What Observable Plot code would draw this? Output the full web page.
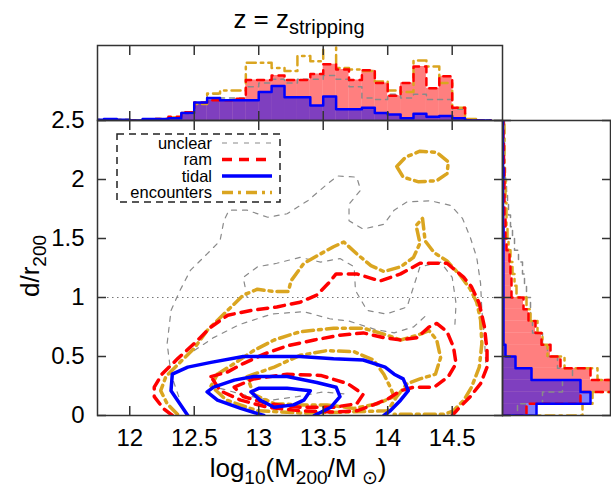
<!DOCTYPE html>
<html><head><meta charset="utf-8">
<script src="https://cdn.jsdelivr.net/npm/d3@7"></script>
<script src="https://cdn.jsdelivr.net/npm/@observablehq/plot@0.6"></script>
<style>
body{margin:0;background:#fff;}
#chart{position:relative;width:611px;height:488px;overflow:hidden;font-family:"Liberation Sans",Arial,sans-serif;color:#000;}
#chart svg{position:absolute;left:0;top:0;}
.lbl{position:absolute;white-space:nowrap;transform:translate(-50%,-50%);line-height:1;}
.sub{font-size:19px;position:relative;top:0.35em;}
.tsub{font-size:20px;position:relative;top:0.3em;}
</style></head>
<body><div id="chart"></div>
<script>
// ---------- tick labels ----------
const xTicks = [12, 12.5, 13, 13.5, 14, 14.5];
const yTicks = [0, 0.5, 1, 1.5, 2, 2.5];
const seriesNames = ["unclear", "ram", "tidal", "encounters"];

// ---------- top histogram (log10 M200 bins, width 0.1; fraction of panel height) ----------
const massBins = [11.7,11.8,11.9,12.0,12.1,12.2,12.3,12.4,12.5,12.6,12.7,12.8,12.9,13.0,13.1,13.2,13.3,13.4,13.5,13.6,13.7,13.8,13.9,14.0,14.1,14.2,14.3,14.4,14.5,14.6,14.7];
const tidalTop   = [0.01,0.02,0.01,0.00,0.02,0.02,0.03,0.10,0.24,0.30,0.27,0.27,0.27,0.38,0.46,0.31,0.31,0.20,0.32,0.15,0.15,0.17,0.10,0.08,0.03,0.09,0.05,0.06,0.03,0.00,0.00];
const ramTop     = [0.00,0.01,0.00,0.00,0.01,0.02,0.05,0.11,0.24,0.27,0.27,0.29,0.54,0.54,0.60,0.54,0.54,0.62,0.75,0.68,0.54,0.67,0.50,0.33,0.50,0.72,0.43,0.59,0.17,0.00,0.00];
const encTop     = [0.01,0.01,0.01,0.00,0.01,0.02,0.04,0.10,0.22,0.36,0.40,0.40,0.77,0.77,0.70,0.66,0.86,0.79,1.05,0.70,0.68,0.66,0.52,0.40,0.38,0.80,0.72,0.50,0.17,0.02,0.00];
const unclearTop = [0.00,0.01,0.00,0.00,0.01,0.02,0.04,0.10,0.22,0.35,0.30,0.30,0.45,0.50,0.55,0.50,0.55,0.55,0.60,0.55,0.45,0.30,0.28,0.35,0.30,0.35,0.28,0.28,0.15,0.00,0.00];
const massBinWidth = 0.1;

// ---------- right histogram (d/r200 bins, width 0.1) ----------
const distBins = [0,0.1,0.2,0.3,0.4,0.5,0.6,0.7,0.8,0.9,1.0,1.1,1.2,1.3,1.4,1.5,1.6,1.7,1.8,1.9,2.0,2.1,2.2,2.3,2.4];
const tidalRight   = [34,88,78,29,13,3,1,1,1,1,1,1,1,1,1,1,0.5,0.5,0.5,0.5,1,0.5,0.5,0.5,0.5];
const ramRight     = [24,78,115,88,58,48,39,33,26,21,9,9,8,7,4,3,3,2,2,2,2,1.5,1.5,1,1];
const encRight     = [80,90,118,95,62,45,40,35,28,24,14,12,10,8,6,5,4,4,3,3,2,2,2,2,2];
const unclearRight = [15,40,60,70,55,45,40,30,28,28,24,22,20,16,12,10,8,6,5,4,3,2,2,2,2];
const distBinWidth = 0.1;

// ---------- contours [log10 M200, d/r200] ----------
const tidalContours = [
  [[12.45,0],[12.32,0.21],[12.33,0.35],[12.45,0.41],[12.63,0.45],[12.88,0.50],[13.32,0.50],[13.58,0.48],[13.81,0.47],[13.98,0.41],[14.05,0.35],[14.12,0.31],[14.16,0.21],[14.10,0.13],[14.02,0.04],[13.97,0]],
  [[13.04,0],[12.86,0.06],[12.68,0.13],[12.60,0.20],[12.65,0.24],[12.81,0.30],[12.96,0.33],[13.22,0.33],[13.45,0.28],[13.60,0.24],[13.63,0.16],[13.56,0.07],[13.43,0]],
  [[12.94,0.20],[13.00,0.23],[13.22,0.23],[13.40,0.21],[13.35,0.13],[13.27,0.09],[13.12,0.07],[13.01,0.13],[12.94,0.20]]
];
const ramContours = [
  [[12.33,0],[12.26,0.06],[12.19,0.16],[12.19,0.24],[12.25,0.35],[12.37,0.48],[12.50,0.61],[12.63,0.75],[12.76,0.85],[12.94,0.89],[13.14,0.92],[13.32,0.96],[13.45,1.02],[13.54,1.12],[13.60,1.20],[13.76,1.20],[13.94,1.14],[14.10,1.20],[14.25,1.29],[14.46,1.29],[14.59,1.17],[14.65,1.09],[14.71,0.95],[14.75,0.75],[14.77,0.55],[14.77,0.41],[14.72,0.27],[14.64,0.16],[14.55,0.06],[14.50,0]],
  [[12.63,0.33],[12.76,0.37],[12.88,0.44],[13.04,0.52],[13.22,0.59],[13.43,0.64],[13.63,0.68],[13.81,0.70],[13.97,0.66],[14.10,0.64],[14.23,0.66],[14.32,0.75],[14.38,0.78],[14.46,0.71],[14.51,0.58],[14.53,0.44],[14.47,0.33],[14.36,0.24],[14.20,0.24],[14.10,0.21],[14.00,0.14],[13.89,0.09],[13.76,0.04],[13.58,0.03],[13.32,0.04],[13.07,0.07],[12.86,0.13],[12.70,0.21],[12.63,0.33]],
  [[12.81,0.24],[12.96,0.31],[13.22,0.35],[13.48,0.34],[13.69,0.27],[13.81,0.18],[13.76,0.10],[13.58,0.07],[13.32,0.07],[13.07,0.10],[12.88,0.16],[12.81,0.24]]
];
const encContours = [
  [[14.07,2.11],[14.14,2.19],[14.25,2.24],[14.38,2.23],[14.47,2.15],[14.46,2.05],[14.38,1.99],[14.24,1.98],[14.12,2.02],[14.07,2.11]],
  [[12.37,0.01],[12.29,0.10],[12.24,0.21],[12.28,0.33],[12.38,0.44],[12.50,0.57],[12.60,0.72],[12.73,0.86],[12.88,1.02],[12.99,1.07],[13.12,1.05],[13.23,1.05],[13.25,1.14],[13.35,1.29],[13.48,1.37],[13.58,1.43],[13.66,1.47],[13.76,1.37],[13.87,1.27],[13.97,1.22],[14.10,1.26],[14.20,1.34],[14.25,1.46],[14.22,1.61],[14.27,1.67],[14.29,1.48],[14.36,1.38],[14.46,1.31],[14.56,1.19],[14.64,1.07],[14.69,0.96],[14.72,0.81],[14.73,0.61],[14.71,0.41],[14.65,0.24],[14.59,0.13],[14.51,0.04],[14.44,0.01],[14.20,0.01],[14.05,0.01]],
  [[12.68,0.35],[12.81,0.44],[12.96,0.55],[13.12,0.64],[13.32,0.71],[13.58,0.74],[13.81,0.74],[13.97,0.69],[14.10,0.64],[14.23,0.68],[14.32,0.72],[14.38,0.64],[14.41,0.49],[14.37,0.35],[14.25,0.31],[14.15,0.27],[14.07,0.16],[14.00,0.04],[13.70,0.03],[13.35,0.02],[12.99,0.04],[12.75,0.13],[12.63,0.25],[12.68,0.35]],
  [[12.91,0.33],[13.12,0.41],[13.32,0.51],[13.53,0.55],[13.74,0.54],[13.89,0.47],[13.97,0.35],[14.02,0.24],[14.05,0.16],[13.92,0.10],[13.74,0.06],[13.53,0.09],[13.32,0.09],[13.12,0.10],[12.96,0.18],[12.91,0.33]]
];
const unclearContours = [
  [[12.38,0.16],[12.32,0.35],[12.29,0.61],[12.32,0.89],[12.39,1.06],[12.47,1.23],[12.60,1.37],[12.70,1.48],[12.73,1.65],[12.77,1.74],[12.91,1.74],[13.07,1.68],[13.22,1.71],[13.38,1.82],[13.53,1.96],[13.61,2.03],[13.76,2.02],[13.79,1.91],[13.70,1.79],[13.70,1.65],[13.81,1.58],[13.97,1.62],[14.05,1.74],[14.15,1.81],[14.33,1.82],[14.49,1.78],[14.58,1.67],[14.64,1.51],[14.69,1.34],[14.72,1.12],[14.73,0.89],[14.75,0.66],[14.76,0.45]],
  [[12.91,1.00],[12.88,1.17],[12.99,1.26],[13.14,1.29],[13.32,1.34],[13.48,1.30],[13.63,1.33],[13.74,1.26],[13.75,1.06],[13.84,0.89],[13.99,0.86],[14.15,0.92],[14.20,1.09],[14.25,1.26],[14.41,1.30],[14.50,1.17],[14.53,0.95],[14.52,0.75]],
  [[12.50,0.55],[12.65,0.66],[12.85,0.77],[13.10,0.86],[13.35,0.88],[13.55,0.82],[13.70,0.80],[13.90,0.73],[14.05,0.70],[14.20,0.75],[14.30,0.85]],
  [[12.70,0.23],[12.90,0.17],[13.10,0.13],[13.30,0.16],[13.50,0.20],[13.70,0.18]]
];

// ---------- styles ----------
const COL = {unclear: "#8a8a8a", ram: "#ff0000", tidal: "#0000ff", encounters: "#daa520"};
const DASH = {unclear: "5,6", ram: "10,7", tidal: null, encounters: "11,5,3,5"};
const WIDTH = {unclear: 1.2, ram: 3.5, tidal: 3.5, encounters: 3.5};
const FONT = '"Liberation Sans", Arial, Helvetica, sans-serif';

// ---------- helpers building tables ----------
const contourTable = list => list.flatMap((pts, id) => pts.map(([x, y]) => ({x, y, id})));
function stepX(values) {
  const pts = [{x: massBins[0], y: 0}];
  massBins.forEach((m, i) => { pts.push({x: m, y: values[i]}); pts.push({x: m + massBinWidth, y: values[i]}); });
  pts.push({x: massBins[massBins.length - 1] + massBinWidth, y: 0});
  return pts;
}
function stepY(values) {
  const pts = [{x: 0, y: distBins[0]}];
  distBins.forEach((d, i) => { pts.push({x: values[i], y: d}); pts.push({x: values[i], y: d + distBinWidth}); });
  return pts;
}
const topRows = massBins.map((m, i) => ({a: m, b: m + massBinWidth, zero: 0, ram: ramTop[i], tidal: tidalTop[i]}));
const rightRows = distBins.map((d, i) => ({a: d, b: d + distBinWidth, zero: 0, ram: ramRight[i], tidal: tidalRight[i]}));

const plotStyle = {background: "transparent", fontFamily: FONT, fontSize: "24px", color: "#000", overflow: "visible"};
const noText = () => "";
const numText = d => String(d);
const mkFrame = () => Plot.frame({stroke: "#333", strokeWidth: 1.5});

const contourMark = (list, key) => Plot.line(contourTable(list), {
  x: "x", y: "y", z: "id", stroke: COL[key], strokeWidth: WIDTH[key], strokeDasharray: DASH[key], clip: true, strokeLinejoin: "round"
});

// ---------- main panel ----------
const mainPlot = Plot.plot({
  width: 611, height: 488,
  marginLeft: 97, marginRight: 109, marginTop: 120, marginBottom: 73,
  x: {domain: [11.75, 14.89]},
  y: {domain: [0, 2.5]},
  style: plotStyle,
  marks: [
    Plot.ruleY([1], {stroke: "#777", strokeWidth: 1, strokeDasharray: "1.5,3.5"}),
    contourMark(unclearContours, "unclear"),
    contourMark(encContours, "encounters"),
    contourMark(ramContours, "ram"),
    contourMark(tidalContours, "tidal"),
    mkFrame(),
    Plot.axisX({ticks: xTicks, anchor: "bottom", tickSize: 0, tickPadding: 13, fontSize: 24, tickFormat: numText, label: null}),
    Plot.axisX({ticks: xTicks, anchor: "bottom", tickSize: -9, tickFormat: noText, label: null, stroke: "#333", strokeWidth: 1.5}),
    Plot.axisX({ticks: xTicks, anchor: "top", tickSize: -9, tickFormat: noText, label: null, stroke: "#333", strokeWidth: 1.5}),
    Plot.axisY({ticks: yTicks, anchor: "left", tickSize: 0, tickPadding: 13, fontSize: 24, tickFormat: numText, label: null}),
    Plot.axisY({ticks: yTicks, anchor: "left", tickSize: -9, tickFormat: noText, label: null, stroke: "#333", strokeWidth: 1.5}),
    Plot.axisY({ticks: yTicks, anchor: "right", tickSize: -9, tickFormat: noText, label: null, stroke: "#333", strokeWidth: 1.5})
  ]
});

// ---------- top histogram ----------
const topPlot = Plot.plot({
  width: 611, height: 488,
  marginLeft: 97, marginRight: 109, marginTop: 45, marginBottom: 368,
  x: {domain: [11.75, 14.89]},
  y: {domain: [0, 1], axis: null},
  style: plotStyle,
  marks: [
    Plot.rect(topRows, {x1: "a", x2: "b", y1: "zero", y2: "ram", fill: COL.ram, fillOpacity: 0.5, inset: 0, clip: true}),
    Plot.rect(topRows, {x1: "a", x2: "b", y1: "zero", y2: "tidal", fill: COL.tidal, fillOpacity: 0.5, inset: 0, clip: true}),
    Plot.line(stepX(unclearTop), {x: "x", y: "y", stroke: COL.unclear, strokeWidth: 1.5, strokeDasharray: "5,5", clip: true}),
    Plot.line(stepX(encTop), {x: "x", y: "y", stroke: COL.encounters, strokeWidth: 2.5, strokeDasharray: "9,5,2.5,5", clip: true}),
    Plot.line(stepX(ramTop), {x: "x", y: "y", stroke: COL.ram, strokeWidth: 2.5, strokeDasharray: "7,6", clip: true}),
    Plot.line(stepX(tidalTop), {x: "x", y: "y", stroke: COL.tidal, strokeWidth: 2.5, clip: true}),
    mkFrame(),
    Plot.axisX({ticks: xTicks, anchor: "top", tickSize: -9, tickFormat: noText, label: null, stroke: "#333", strokeWidth: 1.5}),
    Plot.axisX({ticks: xTicks, anchor: "bottom", tickSize: -9, tickFormat: noText, label: null, stroke: "#333", strokeWidth: 1.5})
  ]
});

// ---------- right histogram ----------
const rightPlot = Plot.plot({
  width: 611, height: 488,
  marginLeft: 502, marginRight: 1, marginTop: 120, marginBottom: 73,
  x: {domain: [0, 108], axis: null},
  y: {domain: [0, 2.5]},
  style: plotStyle,
  marks: [
    Plot.rect(rightRows, {y1: "a", y2: "b", x1: "zero", x2: "ram", fill: COL.ram, fillOpacity: 0.5, inset: 0, clip: true}),
    Plot.rect(rightRows, {y1: "a", y2: "b", x1: "zero", x2: "tidal", fill: COL.tidal, fillOpacity: 0.5, inset: 0, clip: true}),
    Plot.line(stepY(unclearRight), {x: "x", y: "y", stroke: COL.unclear, strokeWidth: 1.5, strokeDasharray: "5,5", clip: true}),
    Plot.line(stepY(encRight), {x: "x", y: "y", stroke: COL.encounters, strokeWidth: 2.5, strokeDasharray: "9,5,2.5,5", clip: true}),
    Plot.line(stepY(ramRight), {x: "x", y: "y", stroke: COL.ram, strokeWidth: 2.5, strokeDasharray: "7,6", clip: true}),
    Plot.line(stepY(tidalRight), {x: "x", y: "y", stroke: COL.tidal, strokeWidth: 2.5, clip: true}),
    mkFrame(),
    Plot.axisY({ticks: yTicks, anchor: "left", tickSize: -9, tickFormat: noText, label: null, stroke: "#333", strokeWidth: 1.5}),
    Plot.axisY({ticks: yTicks, anchor: "right", tickSize: -9, tickFormat: noText, label: null, stroke: "#333", strokeWidth: 1.5})
  ]
});

const chart = document.getElementById("chart");
[topPlot, rightPlot, mainPlot].forEach(svg => chart.appendChild(svg));

// ---------- legend ----------
const leg = d3.select(chart).append("svg").attr("width", 611).attr("height", 488).style("pointer-events", "none");
leg.append("rect").attr("x", 117).attr("y", 134).attr("width", 163).attr("height", 68)
  .attr("fill", "white").attr("stroke", "#222").attr("stroke-width", 1.5).attr("stroke-dasharray", "7,5");
seriesNames.forEach((name, i) => {
  const y = 143 + i * 16.5;
  leg.append("text").attr("x", 212).attr("y", y).attr("dy", "0.35em").attr("text-anchor", "end")
    .attr("font-family", FONT).attr("font-size", 16.5).attr("fill", "#000").text(name);
  leg.append("line").attr("x1", 222).attr("x2", 272).attr("y1", y).attr("y2", y)
    .attr("stroke", COL[name]).attr("stroke-width", WIDTH[name]).attr("stroke-dasharray", DASH[name]);
});

// ---------- titles ----------
function addLabel(html, x, y, size, rot) {
  const d = document.createElement("div");
  d.className = "lbl";
  d.innerHTML = html;
  d.style.left = x + "px"; d.style.top = y + "px"; d.style.fontSize = size + "px";
  if (rot) d.style.transform = "translate(-50%,-50%) rotate(-90deg)";
  chart.appendChild(d);
}
addLabel('z = z<span class="tsub">stripping</span>', 299, 19, 26);
addLabel('log<span class="sub">10</span>(M<span class="sub">200</span>/M<span class="sub"> ⊙</span>)', 298, 468, 26);
addLabel('d/r<span class="sub">200</span>', 30, 266, 26, true);
</script>
</body></html>
